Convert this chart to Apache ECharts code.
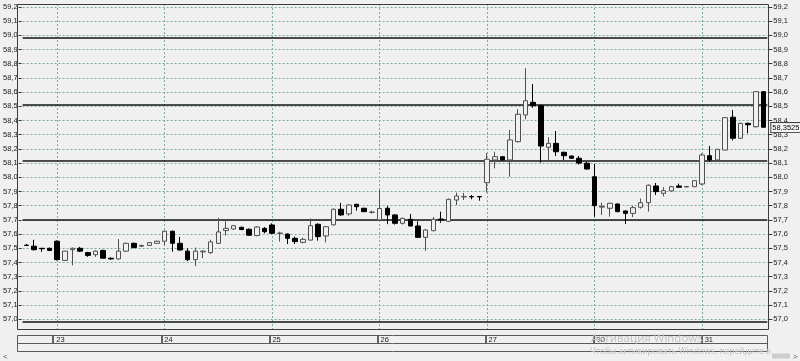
<!DOCTYPE html>
<html><head><meta charset="utf-8">
<script src="https://cdn.jsdelivr.net/npm/echarts@6/dist/echarts.min.js"></script>
<style>html,body{margin:0;padding:0;background:#f0f0f0}#c{width:800px;height:361px}</style>
</head><body><div id="c"></div>
<script>
// ---- data ----
const days = ['22','23','24','25','26','27','30','31'];
const barsPerDay = [4,14,14,14,14,14,14,9];
const open = [
 57.522,57.515,57.500,57.500,
 57.550,57.415,57.490,57.500,57.470,57.455,57.485,57.430,57.425,57.480,57.535,57.515,57.520,57.535,
 57.550,57.620,57.535,57.480,57.420,57.475,57.470,57.535,57.625,57.636,57.648,57.634,57.590,57.640,
 57.664,57.605,57.600,57.570,57.542,57.558,57.669,57.587,57.665,57.775,57.742,57.810,57.782,57.753,
 57.700,57.782,57.735,57.676,57.704,57.657,57.577,57.624,57.706,57.690,57.840,57.862,57.864,57.865,
 57.962,58.122,58.145,58.122,58.251,58.439,58.528,58.504,58.211,58.239,58.176,58.150,58.134,58.099,
 58.004,57.790,57.782,57.812,57.763,57.746,57.789,57.821,57.939,57.887,57.904,57.939,57.932,57.934,
 57.953,58.152,58.122,58.192,58.423,58.275,58.380,58.356,58.603
];
const close = [
 57.520,57.490,57.497,57.485,
 57.420,57.480,57.500,57.480,57.450,57.480,57.430,57.425,57.480,57.535,57.505,57.520,57.540,57.550,
 57.620,57.535,57.488,57.420,57.480,57.480,57.545,57.615,57.640,57.659,57.632,57.592,57.650,57.617,
 57.606,57.607,57.570,57.547,57.563,57.659,57.582,57.652,57.775,57.735,57.805,57.793,57.758,57.755,
 57.780,57.735,57.676,57.711,57.657,57.577,57.629,57.704,57.700,57.845,57.868,57.864,57.862,57.862,
 58.127,58.145,58.122,58.263,58.444,58.539,58.504,58.220,58.239,58.180,58.152,58.134,58.100,58.058,
 57.800,57.795,57.817,57.758,57.746,57.786,57.821,57.944,57.899,57.906,57.934,57.930,57.935,57.976,
 58.157,58.122,58.197,58.420,58.275,58.380,58.370,58.603,58.3525
];
const low = [
 57.515,57.485,57.475,57.480,
 57.415,57.410,57.380,57.475,57.440,57.440,57.430,57.420,57.420,57.475,57.500,57.510,57.518,57.533,
 57.520,57.476,57.485,57.410,57.375,57.430,57.460,57.530,57.590,57.630,57.628,57.590,57.585,57.605,
 57.600,57.547,57.530,57.530,57.535,57.555,57.554,57.542,57.660,57.730,57.730,57.765,57.755,57.745,
 57.695,57.670,57.667,57.667,57.655,57.575,57.483,57.620,57.680,57.685,57.805,57.840,57.845,57.835,
 57.892,58.063,58.120,58.004,58.245,58.408,58.490,58.103,58.122,58.150,58.122,58.130,58.090,58.055,
 57.723,57.735,57.723,57.755,57.671,57.720,57.780,57.758,57.875,57.865,57.900,57.928,57.930,57.930,
 57.945,58.110,58.120,58.190,58.260,58.270,58.310,58.350,58.350
];
const high = [
 57.530,57.560,57.500,57.505,
 57.555,57.482,57.505,57.510,57.475,57.485,57.490,57.435,57.565,57.540,57.540,57.525,57.545,57.553,
 57.625,57.625,57.580,57.500,57.505,57.485,57.560,57.715,57.690,57.665,57.652,57.640,57.655,57.650,
 57.676,57.617,57.605,57.582,57.575,57.710,57.676,57.655,57.780,57.820,57.810,57.812,57.785,57.765,
 57.910,57.798,57.740,57.716,57.742,57.690,57.635,57.720,57.758,57.850,57.892,57.890,57.875,57.866,
 58.170,58.180,58.150,58.333,58.479,58.768,58.657,58.510,58.282,58.326,58.180,58.152,58.150,58.110,
 58.094,57.821,57.820,57.815,57.765,57.800,57.850,57.950,57.960,57.930,57.940,57.955,57.940,57.980,
 58.169,58.220,58.200,58.425,58.474,58.385,58.385,58.605,58.605
];
const yTicks = [57.0,57.1,57.2,57.3,57.4,57.5,57.6,57.7,57.8,57.9,58.0,58.1,58.2,58.3,58.4,58.5,58.6,58.7,58.8,58.9,59.0,59.1,59.2];
const levels = [58.98, 58.507, 58.12, 57.70, 56.98];
const lastPrice = 58.3525;
const lastPriceLabel = '58,3525';

// ---- build ----
const categories = [];
const dayStartIdx = [];
days.forEach((d, k) => {
  if (k > 0) dayStartIdx.push(categories.length);
  for (let i = 0; i < barsPerDay[k]; i++) categories.push(d + '-' + i);
});
const startSet = new Set(dayStartIdx);
const ohlc = open.map((o, i) => [o, close[i], low[i], high[i]]);
const fmt = v => (Math.round(v * 10) / 10).toFixed(1).replace('.', ',');
const FONT = 'Liberation Sans';

const gridDash = {type: [2, 2], color: '#7eaaaa', width: 1};
const markData = [].concat(
  yTicks.map(v => ({yAxis: v, lineStyle: gridDash})),
  dayStartIdx.map(i => ({xAxis: categories[i], lineStyle: gridDash})),
  levels.map((v, k) => ({yAxis: v, lineStyle: {type: 'solid', color: k === 0 ? '#4a4a4a' : '#141414', width: k === 0 ? 2 : 1.6}}))
);

const yAxisBase = (pos) => ({
  type: 'value', gridIndex: 0, position: pos, offset: 1,
  min: 56.9246, max: 59.2204,
  axisLine: {show: false},
  axisTick: {show: true, customValues: yTicks, length: pos === 'left' ? 3 : 4, lineStyle: {color: '#333'}},
  axisLabel: {show: true, customValues: yTicks, formatter: fmt, fontSize: 7.5, color: '#222', fontFamily: FONT, margin: pos === 'left' ? 4 : 5},
  splitLine: {show: false}
});

const chart = echarts.init(document.getElementById('c'), null, {renderer: 'canvas'});
chart.setOption({
  animation: false,
  backgroundColor: '#f0f0f0',
  grid: [
    {left: 18.5, right: 32.7, top: 4, height: 326},
    {left: 18.5, right: 32.7, top: 335.5, height: 8}
  ],
  xAxis: [
    {type: 'category', gridIndex: 0, data: categories, boundaryGap: true,
     axisLine: {show: false}, axisTick: {show: false}, axisLabel: {show: false}, splitLine: {show: false}},
    {type: 'category', gridIndex: 1, data: categories, boundaryGap: true, position: 'bottom',
     axisLine: {show: false},
     axisTick: {show: true, inside: true, length: 8, alignWithLabel: true, interval: (i) => startSet.has(i), lineStyle: {color: '#333', width: 1.5}},
     axisLabel: {show: true, inside: true, interval: (i) => startSet.has(i), formatter: v => v.split('-')[0],
       align: 'left', padding: [0, 0, 0, 3], margin: 0, fontSize: 7.5, color: '#222', fontFamily: FONT},
     splitLine: {show: false}}
  ],
  yAxis: [
    yAxisBase('left'),
    yAxisBase('right'),
    {type: 'value', gridIndex: 1, show: false}
  ],
  series: [
    {
      type: 'candlestick', xAxisIndex: 0, yAxisIndex: 0, z: 3,
      data: ohlc, barWidth: 5,
      itemStyle: {color: '#f0f0f0', color0: '#000000', borderColor: '#505050', borderColor0: '#000000', borderWidth: 1},
      markLine: {
        symbol: ['none', 'none'], silent: true, z: 1, animation: false,
        label: {show: false},
        data: markData
      }
    },
    {
      type: 'line', xAxisIndex: 0, yAxisIndex: 1, data: [[categories[categories.length - 1], lastPrice]],
      symbol: 'none', lineStyle: {width: 0}, z: 6,
      markLine: {
        symbol: ['none', 'none'], silent: true, animation: false, z: 6,
        lineStyle: {color: 'rgba(0,0,0,0)', width: 1},
        data: [{yAxis: lastPrice,
          label: {show: true, position: 'end', distance: 4, formatter: lastPriceLabel,
            fontSize: 7.5, fontFamily: FONT, color: '#000', backgroundColor: '#f7f7f7',
            borderColor: '#444', borderWidth: 1, padding: [1, 1, 0, 1]}}]
      }
    },
    {type: 'line', xAxisIndex: 1, yAxisIndex: 2, data: []}
  ],
  graphic: [
    {type: 'rect', shape: {x: 17.5, y: 4.5, width: 751, height: 325}, style: {fill: null, stroke: '#3c3c3c', lineWidth: 1}, z: 20, silent: true},
    {type: 'rect', shape: {x: 17.5, y: 335.5, width: 750, height: 16}, style: {fill: null, stroke: '#5a5a5a', lineWidth: 1}, z: 20, silent: true},
    {type: 'line', shape: {x1: 17.5, y1: 343.5, x2: 767.5, y2: 343.5}, style: {stroke: '#5a5a5a', lineWidth: 1}, z: 20, silent: true},
    {type: 'text', x: 591, y: 338.5, z: 30, silent: true, style: {text: 'Активация Windows', font: '11.5px "Open Sans"', fill: '#c2c2c2', textVerticalAlign: 'middle'}},
    {type: 'text', x: 590, y: 351.5, z: 30, silent: true, style: {text: 'Чтобы активировать Windows, перейдите в', font: '8.5px "Open Sans"', fill: '#c2c2c2', textVerticalAlign: 'middle'}},
    {type: 'text', x: 3, y: 357, z: 30, silent: true, style: {text: '<', font: '8px "Liberation Sans"', fill: '#555', textVerticalAlign: 'middle'}},
    {type: 'text', x: 793, y: 356.5, z: 30, silent: true, style: {text: '>', font: '8px "Liberation Sans"', fill: '#555', textVerticalAlign: 'middle'}},
    {type: 'rect', shape: {x: 772, y: 353.5, width: 18, height: 5}, style: {fill: '#cdcdcd'}, z: 30, silent: true}
  ]
});
</script>
</body></html>
